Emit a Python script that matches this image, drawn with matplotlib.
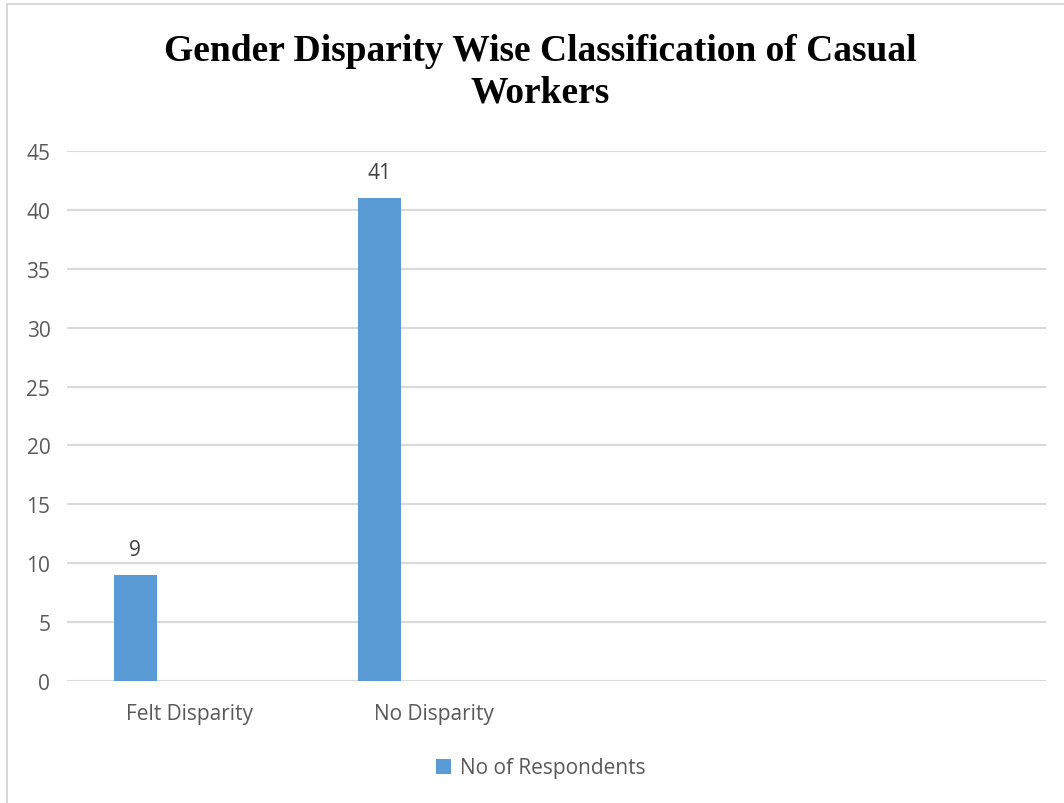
import matplotlib
matplotlib.use("Agg")
import matplotlib.pyplot as plt
from matplotlib.patches import Rectangle
import numpy as np

categories = ["Felt Disparity", "No Disparity", "", ""]
respondents = [9, 41, None, None]
series_name = "No of Respondents"
yticks = [0, 5, 10, 15, 20, 25, 30, 35, 40, 45]
title = "Gender Disparity Wise Classification of Casual\nWorkers"

W, H = 1064, 804
fig = plt.figure(figsize=(W / 100, H / 100), dpi=100)
fig.patch.set_facecolor("white")

# outer chart border (left/top visible)
fig.add_artist(Rectangle((7 / W, -0.01), 1.2, 1 - 5 / H + 0.01, transform=fig.transFigure,
                         fill=False, edgecolor="#d9d9d9", linewidth=1.5))

ax = fig.add_axes([67 / W, 1 - 682 / H, (1046 - 67) / W, (682 - 152) / H])
text_color = "#595959"
tick_font = "Open Sans"
fs = 15

x = np.arange(len(categories))
offset = -0.222
width = 0.176
vals_x = [xi + offset for xi, v in zip(x, respondents) if v is not None]
vals = [v for v in respondents if v is not None]
bars = ax.bar(vals_x, vals, width=width, color="#5B9BD5", label=series_name, zorder=3)
for bx, v in zip(vals_x, vals):
    ax.annotate(str(v), (bx, v), xytext=(0, 11), textcoords="offset points",
                ha="center", va="bottom", fontsize=fs, color="#404040", family=tick_font)

ax.set_xlim(-0.5, len(categories) - 0.5)
ax.set_ylim(0, 45)
ax.set_yticks(yticks)
ax.set_xticks(x)
ax.set_xticklabels(categories)
ax.grid(axis="y", color="#d9d9d9", linewidth=1.5, zorder=0)
for s in ax.spines.values():
    s.set_visible(False)
ax.tick_params(axis="both", length=0, labelsize=fs, labelcolor=text_color)
ax.tick_params(axis="y", pad=12)
ax.tick_params(axis="x", pad=16)
for lbl in ax.get_xticklabels() + ax.get_yticklabels():
    lbl.set_family(tick_font)

fig.text(540 / W, 1 - 72 / H, title, ha="center", va="center", fontsize=27,
         fontweight="bold", family="Liberation Serif", color="black", linespacing=1.25)

leg = fig.legend(handles=[bars], labels=[series_name], loc="center",
                 bbox_to_anchor=(541 / W, 1 - 769 / H), frameon=False,
                 prop={"family": tick_font, "size": fs}, handlelength=0.7,
                 handleheight=0.7, handletextpad=0.45)
for t in leg.get_texts():
    t.set_color(text_color)

fig.savefig("out.png", dpi=100)
